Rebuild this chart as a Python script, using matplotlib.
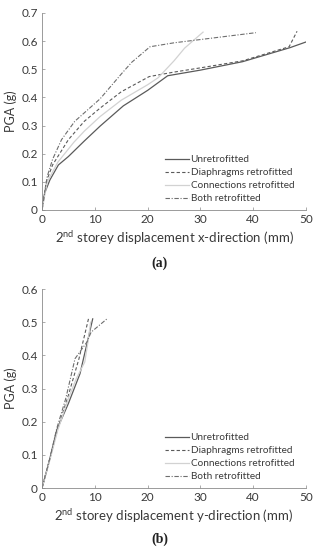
import matplotlib

matplotlib.use("Agg")
from matplotlib import pyplot as plt

# panel (a): x-direction
ax_unretro_x = [0, 0.5, 1.5, 3.1, 5, 8, 11, 15.4, 20, 23.8, 30, 38, 47, 50]
ay_unretro = [0, 0.06, 0.107, 0.16, 0.19, 0.245, 0.298, 0.37, 0.425, 0.477, 0.497, 0.527, 0.577, 0.597]
ax_diaph_x = [0, 0.8, 2, 5, 8, 11, 15, 20.3, 25, 30, 38, 46.8, 48.3]
ay_diaph = [0, 0.1, 0.16, 0.25, 0.315, 0.362, 0.42, 0.474, 0.49, 0.505, 0.53, 0.58, 0.635]
ax_conn_x = [0, 1, 3, 6, 8, 11, 15, 20, 22, 25, 27, 30.5]
ay_conn = [0, 0.1, 0.17, 0.24, 0.28, 0.332, 0.39, 0.445, 0.47, 0.53, 0.575, 0.632]
ax_both_x = [0, 1, 2, 3.7, 6.2, 11, 15.1, 17, 20.45, 25, 40.5]
ay_both = [0, 0.12, 0.18, 0.25, 0.315, 0.395, 0.485, 0.525, 0.58, 0.594, 0.63]

# panel (b): y-direction
bx_unretro = [0, 1.2, 2.8, 5, 7.2, 9.6]
by_unretro = [0, 0.07, 0.175, 0.255, 0.345, 0.51]
bx_diaph = [0, 1.5, 3, 5, 7, 8.8]
by_diaph = [0, 0.09, 0.18, 0.28, 0.39, 0.51]
bx_conn = [0, 1.5, 3, 5, 6.5, 8.1, 8.7, 9.2]
by_conn = [0, 0.085, 0.175, 0.27, 0.33, 0.38, 0.44, 0.5]
bx_both = [0, 1.5, 2.8, 4.5, 6.25, 8.5, 9.3, 12.3]
by_both = [0, 0.09, 0.18, 0.27, 0.39, 0.44, 0.47, 0.51]

labels = ['Unretrofitted', 'Diaphragms retrofitted',
          'Connections retrofitted', 'Both retrofitted']
styles = [dict(color='#5a5a5a', ls='-', lw=0.9),
          dict(color='#5a5a5a', ls=(0, (3, 2)), lw=0.8),
          dict(color='#d2d2d2', ls='-', lw=0.9),
          dict(color='#6e6e6e', ls=(0, (4, 1.5, 1, 1.5)), lw=0.8)]

plt.rcParams['font.family'] = ['Lato', 'DejaVu Sans']
txt_col = '#3a3a3a'

fig = plt.figure(figsize=(3.19, 5.5), dpi=100)


def setup(ax, ymax, xlabel_dir):
    ax.set_xlim(0, 50)
    ax.set_ylim(0, ymax)
    ax.set_xticks([0, 10, 20, 30, 40, 50])
    for s in ['top', 'right']:
        ax.spines[s].set_visible(False)
    for s in ['left', 'bottom']:
        ax.spines[s].set_color('#8a8a8a')
        ax.spines[s].set_linewidth(0.6)
    ax.tick_params(direction='in', length=2.5, width=0.5, color='#8a8a8a',
                   labelsize=8.5, labelcolor=txt_col, pad=3)
    ax.set_ylabel('PGA (g)', fontsize=9, color=txt_col, labelpad=3)
    ax.set_xlabel('2$^{\\mathregular{nd}}$ storey displacement ' + xlabel_dir + '-direction (mm)',
                  fontsize=9.5, color=txt_col, labelpad=3)
    ax.legend(loc='lower right', bbox_to_anchor=(0.955, 0.035), frameon=False,
              fontsize=7.2, labelspacing=0.4, handlelength=2.4,
              handletextpad=0.12, borderpad=0, borderaxespad=0,
              labelcolor=txt_col)


ax1 = fig.add_axes([0.1317, 0.6182, 0.8276, 0.3582])
for xs, ys, lab, st in zip([ax_unretro_x, ax_diaph_x, ax_conn_x, ax_both_x],
                           [ay_unretro, ay_diaph, ay_conn, ay_both], labels, styles):
    ax1.plot(xs, ys, label=lab, **st)
ax1.set_yticks([0, 0.1, 0.2, 0.3, 0.4, 0.5, 0.6, 0.7])
ax1.set_yticklabels(['0', '0.1', '0.2', '0.3', '0.4', '0.5', '0.6', '0.7'])
setup(ax1, 0.7, 'x')

ax2 = fig.add_axes([0.1317, 0.1127, 0.8276, 0.3618])
for xs, ys, lab, st in zip([bx_unretro, bx_diaph, bx_conn, bx_both],
                           [by_unretro, by_diaph, by_conn, by_both], labels, styles):
    ax2.plot(xs, ys, label=lab, **st)
ax2.set_yticks([0, 0.1, 0.2, 0.3, 0.4, 0.5, 0.6])
ax2.set_yticklabels(['0', '0.1', '0.2', '0.3', '0.4', '0.5', '0.6'])
setup(ax2, 0.6, 'y')

fig.text(0.5, 1 - 263 / 550, '(a)', ha='center', va='center', fontsize=10,
         family='Liberation Serif', weight='bold', color='#222222')
fig.text(0.5, 1 - 539 / 550, '(b)', ha='center', va='center', fontsize=10,
         family='Liberation Serif', weight='bold', color='#222222')

fig.savefig('out.png', dpi=100)
